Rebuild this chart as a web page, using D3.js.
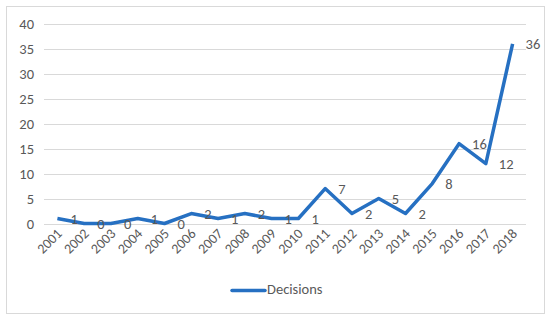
<!DOCTYPE html>
<html>
<head>
<meta charset="utf-8">
<script src="https://cdn.jsdelivr.net/npm/d3@7"></script>
<style>
  body { margin: 0; background: #fff; }
</style>
</head>
<body>
<script>
const years = ["2001", "2002", "2003", "2004", "2005", "2006", "2007", "2008", "2009",
    "2010", "2011", "2012", "2013", "2014", "2015", "2016", "2017", "2018"];
const decisions = [1, 0, 0, 1, 0, 2, 1, 2, 1, 1, 7, 2, 5, 2, 8, 16, 12, 36];
const yTicks = [0, 5, 10, 15, 20, 25, 30, 35, 40];
const seriesName = "Decisions";

const width = 550, height = 321;
const font = "Calibri, Carlito, 'Liberation Sans', Arial, sans-serif";
const grey = "#595959";
const blue = "#2670c2";

const svg = d3.select("body").append("svg")
    .attr("width", width)
    .attr("height", height);

// chart border
svg.append("rect")
    .attr("x", 6.5).attr("y", 6.5)
    .attr("width", 538).attr("height", 307)
    .attr("fill", "#fff")
    .attr("stroke", "#d9d9d9");

const x = d3.scalePoint().domain(years).range([44, 526]).padding(0.5);
const y = d3.scaleLinear().domain([0, 40]).range([223.5, 24]);

// gridlines
svg.append("g")
    .selectAll("line")
    .data(yTicks)
    .join("line")
    .attr("x1", 44).attr("x2", 526)
    .attr("y1", d => Math.round(y(d)) + 0.5)
    .attr("y2", d => Math.round(y(d)) + 0.5)
    .attr("stroke", "#d9d9d9");

// y axis labels
const yAxis = svg.append("g")
    .attr("transform", "translate(34,0)")
    .call(d3.axisLeft(y).tickValues(yTicks).tickSize(0).tickPadding(0));
yAxis.select(".domain").remove();
yAxis.selectAll("text")
    .attr("fill", grey)
    .attr("font-size", "14.5px")
    .attr("font-family", font);

// x axis labels
const xAxis = svg.append("g")
    .attr("transform", "translate(0,223.5)")
    .call(d3.axisBottom(x).tickSize(0).tickPadding(0));
xAxis.select(".domain").remove();
xAxis.selectAll("text")
    .attr("fill", grey)
    .attr("font-size", "14px")
    .attr("font-family", font)
    .attr("text-anchor", "end")
    .attr("dy", null)
    .attr("transform", "translate(5,11) rotate(-45)");

// line
const line = d3.line()
    .x((d, i) => x(years[i]))
    .y(d => y(d));

svg.append("path")
    .datum(decisions)
    .attr("d", line)
    .attr("fill", "none")
    .attr("stroke", blue)
    .attr("stroke-width", 3.5)
    .attr("stroke-linejoin", "round");

// data labels, to the right of each point
svg.append("g")
    .selectAll("text")
    .data(decisions)
    .join("text")
    .attr("x", (d, i) => x(years[i]) + 13)
    .attr("y", d => y(d) + 2)
    .attr("dominant-baseline", "middle")
    .attr("fill", grey)
    .attr("font-size", "14.5px")
    .attr("font-family", font)
    .text(d => d);

// legend
svg.append("line")
    .attr("x1", 232).attr("x2", 265)
    .attr("y1", 290.5).attr("y2", 290.5)
    .attr("stroke", blue)
    .attr("stroke-width", 3.5)
    .attr("stroke-linecap", "round");

svg.append("text")
    .attr("x", 267).attr("y", 291)
    .attr("dominant-baseline", "middle")
    .attr("fill", grey)
    .attr("font-size", "14.5px")
    .attr("font-family", font)
    .text(seriesName);
</script>
</body>
</html>
